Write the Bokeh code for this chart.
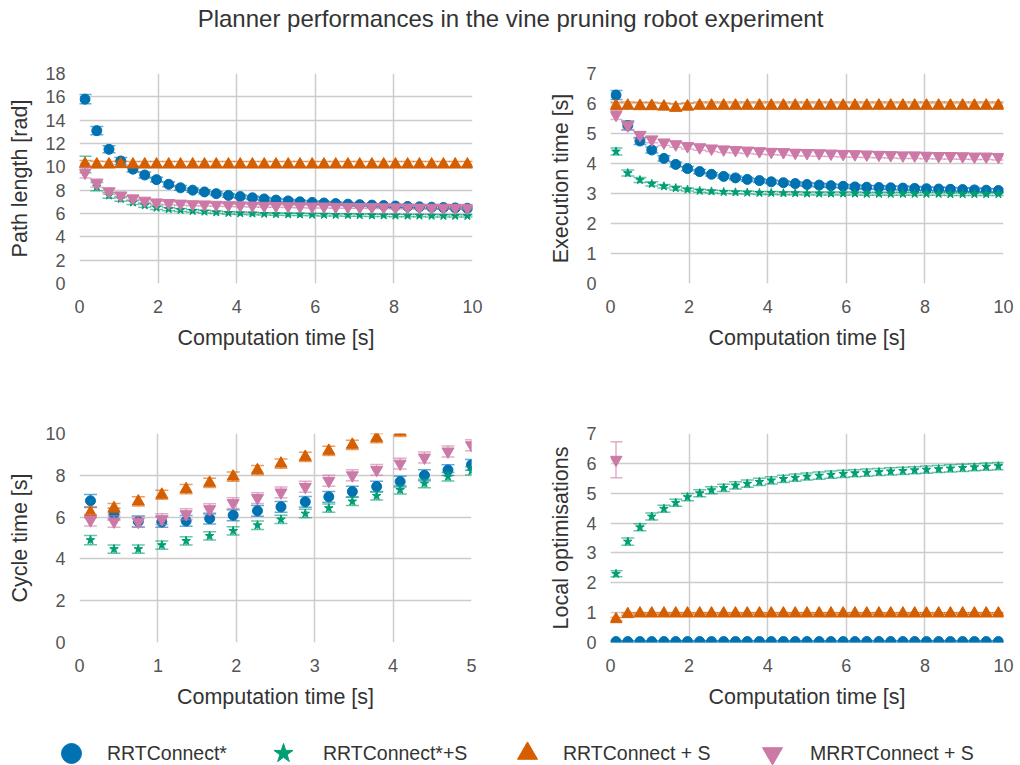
from bokeh.plotting import figure
from bokeh.layouts import column, row
from bokeh.models import Range1d, SingleIntervalTicker, Legend, LegendItem
from bokeh.embed import file_html
from bokeh.resources import INLINE
from bokeh.core.properties import value

FONT = "Liberation Sans"
C_BLUE, C_GREEN, C_ORANGE, C_PINK = "#0072B2", "#009E73", "#D55E00", "#CC79A7"

series_names = ["RRTConnect*", "RRTConnect*+S", "RRTConnect + S", "MRRTConnect + S"]

comp_time = [0.14, 0.44, 0.75, 1.05, 1.36, 1.66, 1.96, 2.27, 2.57, 2.88, 3.18, 3.48, 3.79,
             4.09, 4.40, 4.70, 5.00, 5.31, 5.61, 5.92, 6.22, 6.52, 6.83, 7.13, 7.44, 7.74,
             8.04, 8.35, 8.65, 8.96, 9.26, 9.56, 9.87]

# ---- Path length [rad]
path_blue = [15.8, 13.1, 11.5, 10.5, 9.8, 9.3, 8.9, 8.5, 8.2, 8.0, 7.85, 7.7, 7.55, 7.45, 7.35,
             7.25, 7.15, 7.08, 7.0, 6.95, 6.9, 6.85, 6.8, 6.76, 6.72, 6.68, 6.64, 6.6, 6.57,
             6.54, 6.51, 6.48, 6.45]
path_blue_err = [0.4, 0.35, 0.3, 0.3, 0.25, 0.25, 0.2, 0.2, 0.2, 0.18, 0.18, 0.16, 0.16, 0.15,
                 0.15, 0.15, 0.14, 0.14, 0.14, 0.13, 0.13, 0.13, 0.12, 0.12, 0.12, 0.12, 0.12,
                 0.11, 0.11, 0.11, 0.11, 0.11, 0.1]
path_green = [10.2, 8.3, 7.55, 7.25, 6.95, 6.7, 6.5, 6.38, 6.3, 6.22, 6.16, 6.1, 6.05, 6.02, 6.0,
              5.97, 5.95, 5.93, 5.92, 5.9, 5.89, 5.88, 5.87, 5.86, 5.85, 5.84, 5.83, 5.82, 5.82,
              5.81, 5.8, 5.8, 5.79]
path_green_err = [0.7, 0.35, 0.25, 0.2, 0.18, 0.16, 0.15, 0.14, 0.13, 0.12, 0.12, 0.11, 0.11,
                  0.1, 0.1, 0.1, 0.1, 0.1, 0.1, 0.1, 0.1, 0.1, 0.1, 0.1, 0.1, 0.1, 0.1, 0.1,
                  0.1, 0.1, 0.1, 0.1, 0.1]
path_orange = [10.25, 10.2, 10.2, 10.22, 10.2, 10.2, 10.2, 10.2, 10.2, 10.2, 10.2, 10.2, 10.2,
               10.2, 10.2, 10.2, 10.2, 10.2, 10.2, 10.2, 10.2, 10.2, 10.2, 10.2, 10.2, 10.2,
               10.2, 10.2, 10.2, 10.2, 10.2, 10.2, 10.2]
path_orange_err = [0.3, 0.28, 0.26, 0.25, 0.25, 0.25, 0.25, 0.25, 0.25, 0.25, 0.25, 0.25, 0.25,
                   0.25, 0.25, 0.25, 0.25, 0.25, 0.25, 0.25, 0.25, 0.25, 0.25, 0.25, 0.25, 0.25,
                   0.25, 0.25, 0.25, 0.25, 0.25, 0.25, 0.25]
path_pink = [9.5, 8.6, 7.9, 7.55, 7.3, 7.1, 6.95, 6.9, 6.85, 6.8, 6.78, 6.75, 6.72, 6.7, 6.68,
             6.66, 6.65, 6.63, 6.62, 6.6, 6.6, 6.58, 6.57, 6.56, 6.55, 6.54, 6.53, 6.52, 6.51,
             6.5, 6.5, 6.49, 6.48]
path_pink_err = [0.45, 0.35, 0.25, 0.2, 0.18, 0.16, 0.15, 0.14, 0.14, 0.13, 0.13, 0.13, 0.12,
                 0.12, 0.12, 0.12, 0.12, 0.12, 0.12, 0.12, 0.12, 0.12, 0.12, 0.12, 0.12, 0.12,
                 0.12, 0.12, 0.12, 0.12, 0.12, 0.12, 0.12]

# ---- Execution time [s]
exec_blue = [6.28, 5.27, 4.75, 4.45, 4.17, 3.97, 3.83, 3.73, 3.64, 3.57, 3.52, 3.47, 3.43, 3.39,
             3.36, 3.33, 3.3, 3.28, 3.26, 3.24, 3.22, 3.21, 3.2, 3.19, 3.18, 3.17, 3.16, 3.15,
             3.14, 3.13, 3.12, 3.11, 3.1]
exec_blue_err = [0.15, 0.15, 0.12, 0.1, 0.09, 0.08, 0.07, 0.07, 0.06, 0.06, 0.06, 0.06, 0.06,
                 0.06, 0.06, 0.06, 0.06, 0.06, 0.06, 0.06, 0.06, 0.06, 0.06, 0.06, 0.06, 0.06,
                 0.06, 0.06, 0.06, 0.06, 0.06, 0.06, 0.06]
exec_green = [4.4, 3.68, 3.45, 3.32, 3.24, 3.18, 3.13, 3.09, 3.07, 3.05, 3.04, 3.03, 3.02, 3.02,
              3.01, 3.01, 3.0, 3.0, 3.0, 3.0, 3.0, 2.99, 2.99, 2.99, 2.99, 2.99, 2.99, 2.99,
              2.98, 2.98, 2.98, 2.98, 2.98]
exec_green_err = [0.12, 0.1, 0.08, 0.07, 0.06, 0.06, 0.05, 0.05, 0.05, 0.05, 0.05, 0.05, 0.05,
                  0.05, 0.05, 0.05, 0.05, 0.05, 0.05, 0.05, 0.05, 0.05, 0.05, 0.05, 0.05, 0.05,
                  0.05, 0.05, 0.05, 0.05, 0.05, 0.05, 0.05]
exec_orange = [5.92, 5.93, 5.92, 5.92, 5.9, 5.86, 5.9, 5.93, 5.93, 5.93, 5.93, 5.93, 5.93, 5.93,
               5.93, 5.93, 5.93, 5.93, 5.93, 5.93, 5.93, 5.93, 5.93, 5.93, 5.93, 5.93, 5.93,
               5.93, 5.93, 5.93, 5.93, 5.93, 5.93]
exec_orange_err = [0.12, 0.12, 0.12, 0.12, 0.12, 0.12, 0.12, 0.12, 0.12, 0.12, 0.12, 0.12, 0.12,
                   0.12, 0.12, 0.12, 0.12, 0.12, 0.12, 0.12, 0.12, 0.12, 0.12, 0.12, 0.12, 0.12,
                   0.12, 0.12, 0.12, 0.12, 0.12, 0.12, 0.12]
exec_pink = [5.62, 5.27, 4.95, 4.8, 4.7, 4.64, 4.58, 4.54, 4.5, 4.47, 4.45, 4.43, 4.41, 4.39,
             4.38, 4.36, 4.35, 4.34, 4.33, 4.32, 4.31, 4.3, 4.29, 4.28, 4.27, 4.27, 4.26, 4.25,
             4.25, 4.24, 4.23, 4.23, 4.22]
exec_pink_err = [0.15, 0.14, 0.12, 0.11, 0.1, 0.1, 0.1, 0.1, 0.1, 0.1, 0.1, 0.1, 0.1, 0.1, 0.1,
                 0.1, 0.1, 0.1, 0.1, 0.1, 0.1, 0.1, 0.1, 0.1, 0.1, 0.1, 0.1, 0.1, 0.1, 0.1, 0.1,
                 0.1, 0.1]

# ---- Cycle time [s] (shown up to 5 s)
cycle_blue = [6.78, 6.14, 5.79, 5.77, 5.82, 5.93, 6.09, 6.3, 6.49, 6.73, 6.97, 7.22, 7.46, 7.7,
              8.0, 8.25, 8.5]
cycle_blue_err = [0.3, 0.28, 0.26, 0.26, 0.26, 0.26, 0.26, 0.26, 0.26, 0.26, 0.26, 0.26, 0.26,
                  0.26, 0.26, 0.26, 0.26]
cycle_green = [4.9, 4.47, 4.47, 4.66, 4.86, 5.1, 5.34, 5.61, 5.89, 6.17, 6.43, 6.75, 7.02, 7.3,
               7.61, 7.93, 8.21]
cycle_green_err = [0.22, 0.2, 0.2, 0.2, 0.2, 0.2, 0.2, 0.2, 0.2, 0.2, 0.2, 0.2, 0.2, 0.2, 0.2,
                   0.2, 0.2]
cycle_orange = [6.22, 6.43, 6.75, 7.07, 7.34, 7.64, 7.94, 8.25, 8.56, 8.88, 9.17, 9.46, 9.78,
                10.08]
cycle_orange_err = [0.24, 0.22, 0.22, 0.22, 0.22, 0.22, 0.22, 0.22, 0.22, 0.22, 0.22, 0.22,
                    0.22, 0.22]
cycle_pink = [5.85, 5.79, 5.77, 5.9, 6.14, 6.38, 6.67, 6.91, 7.18, 7.45, 7.74, 8.0, 8.26, 8.56,
              8.85, 9.14, 9.44]
cycle_pink_err = [0.28, 0.28, 0.26, 0.26, 0.26, 0.26, 0.26, 0.26, 0.26, 0.26, 0.26, 0.26, 0.26,
                  0.26, 0.26, 0.26, 0.26]

# ---- Local optimisations
local_blue = [0.03, 0.03, 0.03, 0.03, 0.03, 0.03, 0.03, 0.03, 0.03, 0.03, 0.03, 0.03, 0.03,
              0.03, 0.03, 0.03, 0.03, 0.03, 0.03, 0.03, 0.03, 0.03, 0.03, 0.03, 0.03, 0.03,
              0.03, 0.03, 0.03, 0.03, 0.03, 0.03, 0.03]
local_blue_err = [0.03, 0.03, 0.03, 0.03, 0.03, 0.03, 0.03, 0.03, 0.03, 0.03, 0.03, 0.03, 0.03,
                  0.03, 0.03, 0.03, 0.03, 0.03, 0.03, 0.03, 0.03, 0.03, 0.03, 0.03, 0.03, 0.03,
                  0.03, 0.03, 0.03, 0.03, 0.03, 0.03, 0.03]
local_green = [2.3, 3.38, 3.86, 4.22, 4.48, 4.68, 4.87, 5.0, 5.1, 5.18, 5.26, 5.32, 5.38, 5.43,
               5.48, 5.52, 5.56, 5.59, 5.62, 5.65, 5.67, 5.69, 5.71, 5.73, 5.75, 5.77, 5.79,
               5.81, 5.83, 5.85, 5.87, 5.89, 5.91]
local_green_err = [0.1, 0.12, 0.12, 0.12, 0.12, 0.12, 0.12, 0.12, 0.12, 0.12, 0.12, 0.12, 0.12,
                   0.12, 0.12, 0.12, 0.12, 0.12, 0.12, 0.12, 0.12, 0.12, 0.12, 0.12, 0.12, 0.12,
                   0.12, 0.12, 0.12, 0.12, 0.12, 0.12, 0.12]
local_orange = [0.78, 0.95, 0.97, 0.97, 0.97, 0.97, 0.97, 0.97, 0.97, 0.97, 0.97, 0.97, 0.97,
                0.97, 0.97, 0.97, 0.97, 0.97, 0.97, 0.97, 0.97, 0.97, 0.97, 0.97, 0.97, 0.97,
                0.97, 0.97, 0.97, 0.97, 0.97, 0.97, 0.97]
local_orange_err = [0.06, 0.04, 0.03, 0.03, 0.03, 0.03, 0.03, 0.03, 0.03, 0.03, 0.03, 0.03,
                    0.03, 0.03, 0.03, 0.03, 0.03, 0.03, 0.03, 0.03, 0.03, 0.03, 0.03, 0.03,
                    0.03, 0.03, 0.03, 0.03, 0.03, 0.03, 0.03, 0.03, 0.03]
local_pink = [6.12]
local_pink_err = [0.6]

STYLES = [
    dict(color=C_BLUE, marker="circle", size=10),
    dict(color=C_GREEN, marker="star", size=9),
    dict(color=C_ORANGE, marker="triangle", size=12),
    dict(color=C_PINK, marker="inverted_triangle", size=12),
]

TICK_FS = "18px"
LABEL_FS = "21.5px"


def make_panel(w, h, bl, br, bt, bb, xmax, ymax, xstep, ystep, ylabel, ystand):
    p = figure(width=w, height=h, x_range=Range1d(0, xmax), y_range=Range1d(0, ymax),
               output_backend="svg", toolbar_location=None,
               min_border_left=bl, min_border_right=br, min_border_top=bt, min_border_bottom=bb)
    p.outline_line_color = None
    xt = SingleIntervalTicker(interval=xstep, num_minor_ticks=0)
    yt = SingleIntervalTicker(interval=ystep, num_minor_ticks=0)
    p.xaxis.ticker = xt
    p.yaxis.ticker = yt
    p.xgrid.ticker = xt
    p.ygrid.ticker = yt
    for ax in (p.xaxis, p.yaxis):
        ax.axis_line_color = None
        ax.major_tick_line_color = None
        ax.minor_tick_line_color = None
        ax.major_label_text_font = FONT
        ax.major_label_text_font_size = TICK_FS
        ax.major_label_text_color = "#555555"
        ax.axis_label_text_font = FONT
        ax.axis_label_text_font_size = LABEL_FS
        ax.axis_label_text_font_style = "normal"
        ax.axis_label_text_color = "#333333"
    p.xaxis.axis_label = "Computation time [s]"
    p.yaxis.axis_label = ylabel
    p.xaxis.major_label_standoff = 10
    p.yaxis.major_label_standoff = 8
    p.xaxis.axis_label_standoff = 10
    p.yaxis.axis_label_standoff = ystand
    p.grid.grid_line_color = "#cccccc"
    p.grid.grid_line_width = 1.5
    return p


def add_series(p, xs, ys, errs, st):
    xs = xs[:len(ys)]
    lo = [a - b for a, b in zip(ys, errs)]
    hi = [a + b for a, b in zip(ys, errs)]
    c = st["color"]
    p.segment(xs, lo, xs, hi, line_color=c, line_alpha=0.6, line_width=1.5)
    p.scatter(xs, lo, marker="dash", size=13, line_color=c, line_alpha=0.6, line_width=1.5)
    p.scatter(xs, hi, marker="dash", size=13, line_color=c, line_alpha=0.6, line_width=1.5)
    p.scatter(xs, ys, marker=st["marker"], size=st["size"], fill_color=c, line_color=c)


# Title
pt = figure(width=1020, height=48, x_range=Range1d(0, 1), y_range=Range1d(0, 1),
            output_backend="svg", toolbar_location=None, x_axis_location=None,
            y_axis_location=None, min_border=0)
pt.outline_line_color = None
pt.grid.visible = False
pt.text(x=[0.5], y=[0.615], text=["Planner performances in the vine pruning robot experiment"],
        text_font=value(FONT), text_font_size="24px", text_color="#333333",
        text_align="center", text_baseline="middle")

pA = make_panel(520, 347, 79, 48, 25, 112, 10, 18, 2, 2, "Path length [rad]", 10)
pB = make_panel(500, 347, 90, 17, 25, 112, 10, 7, 2, 1, "Execution time [s]", 10)
pC = make_panel(520, 330, 79, 49, 38, 83, 5, 10, 1, 2, "Cycle time [s]", 10)
pD = make_panel(500, 330, 90, 17, 38, 83, 10, 7, 2, 1, "Local optimisations", 10)

for data, p in [
    ([(path_blue, path_blue_err), (path_green, path_green_err), (path_orange, path_orange_err),
      (path_pink, path_pink_err)], pA),
    ([(exec_blue, exec_blue_err), (exec_green, exec_green_err), (exec_orange, exec_orange_err),
      (exec_pink, exec_pink_err)], pB),
    ([(cycle_blue, cycle_blue_err), (cycle_green, cycle_green_err),
      (cycle_orange, cycle_orange_err), (cycle_pink, cycle_pink_err)], pC),
    ([(local_blue, local_blue_err), (local_green, local_green_err),
      (local_orange, local_orange_err), (local_pink, local_pink_err)], pD),
]:
    for (ys, es), st in zip(data, STYLES):
        add_series(p, comp_time, ys, es, st)

# Legend strip
pl = figure(width=1020, height=40, x_range=Range1d(0, 1), y_range=Range1d(0, 1),
            output_backend="svg", toolbar_location=None, x_axis_location=None,
            y_axis_location=None, min_border=0)
pl.outline_line_color = None
pl.grid.visible = False
leg_x = [46, 258, 502, 747]
leg_standoff = [11, 15, 11, 13]
for name, st, lx, ls in zip(series_names, STYLES, leg_x, leg_standoff):
    r = pl.scatter(x=[-5], y=[-5], marker=st["marker"], size=20, fill_color=st["color"],
                   line_color=st["color"])
    leg = Legend(items=[LegendItem(label=name, renderers=[r])], location=(lx, -13),
                 orientation="horizontal", glyph_width=50, glyph_height=50, padding=0,
                 margin=0, border_line_alpha=0, background_fill_alpha=0, label_standoff=ls,
                 label_text_font=FONT, label_text_font_size="19.5px",
                 label_text_color="#333333")
    pl.add_layout(leg)

layout = column(pt, row(pA, pB, spacing=0), row(pC, pD, spacing=0), pl, spacing=0)
open("out.html", "w").write(file_html(layout, INLINE))
